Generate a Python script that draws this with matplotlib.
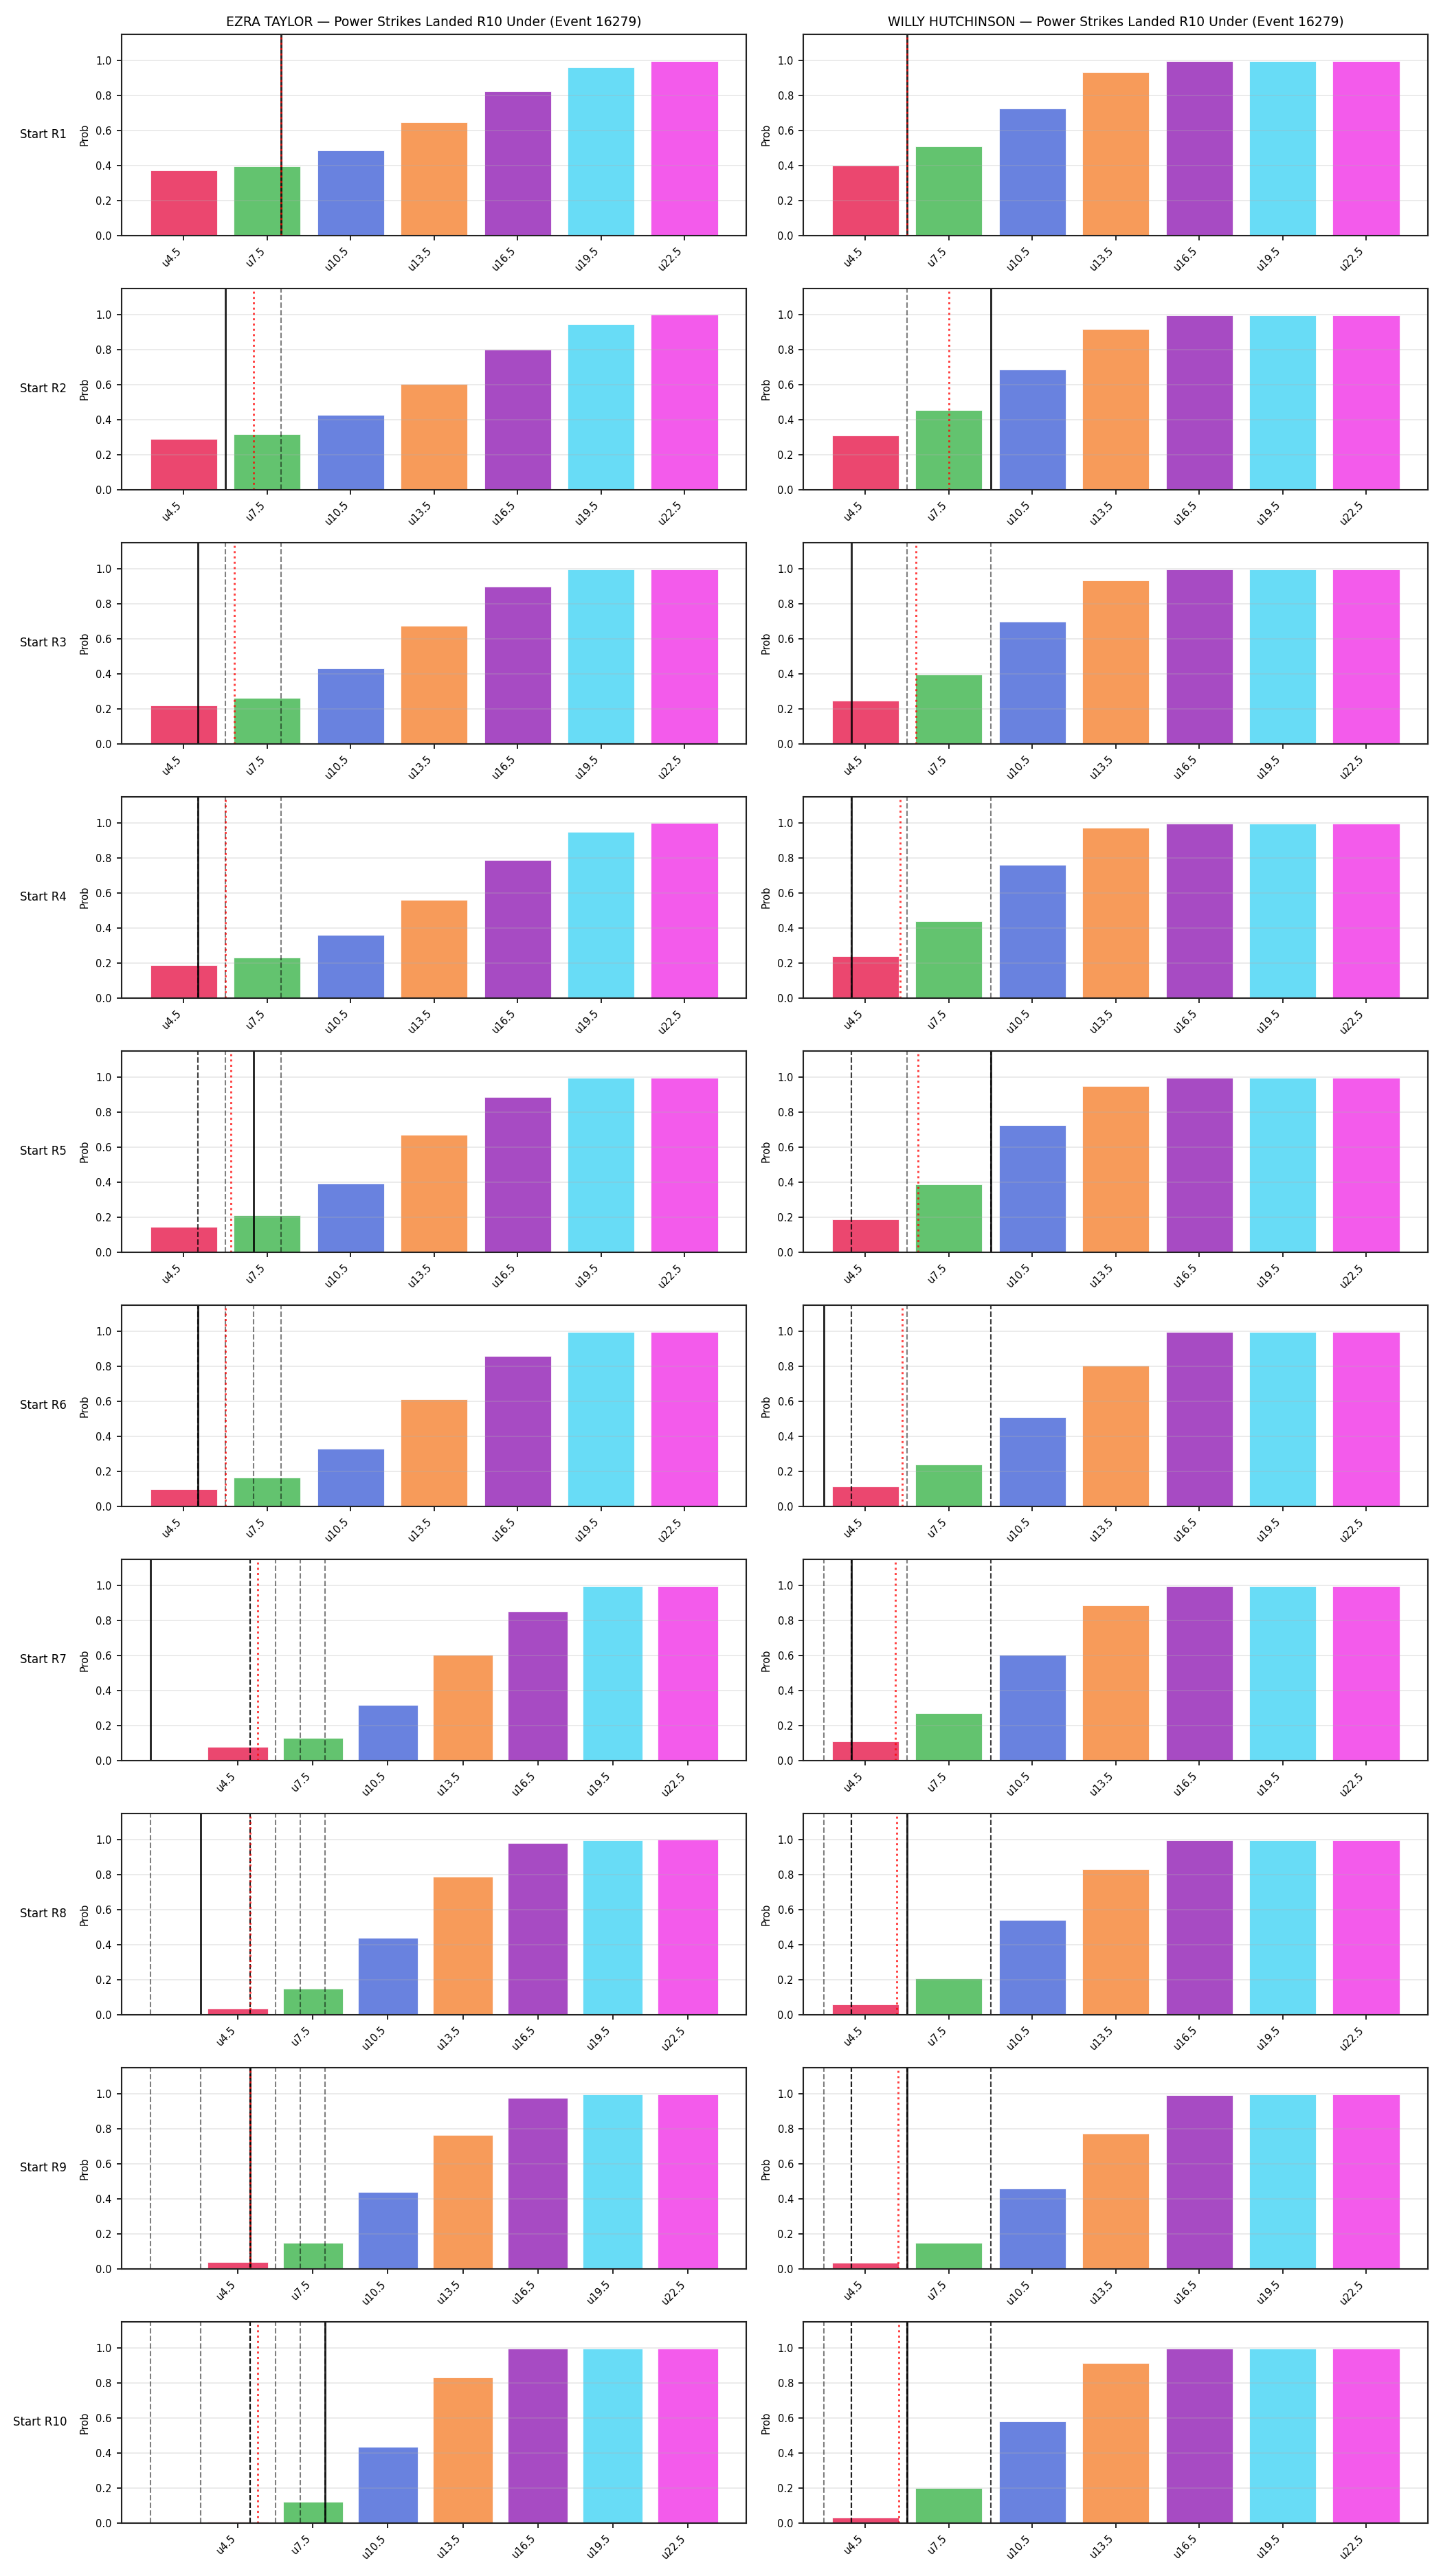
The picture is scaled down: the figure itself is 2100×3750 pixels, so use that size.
import matplotlib
matplotlib.use("Agg")
import matplotlib.pyplot as plt
import numpy as np

# under lines shown on the x axis
LINES = [4.5, 7.5, 10.5, 13.5, 16.5, 19.5, 22.5]
TICK_LABELS = [f"u{v}" for v in LINES]
ROWS = [f"Start R{i}" for i in range(1, 11)]

# strikes landed per round (solid line = this round, dashed = earlier rounds)
EZRA_ROUNDS = [8, 6, 5, 5, 7, 5, 1, 3, 5, 8]
WILLY_ROUNDS = [6, 9, 4, 4, 9, 3, 4, 6, 6, 6]

# running average shown as the red dotted line
EZRA_AVG = [8.0, 7.0, 6.33, 6.0, 6.2, 6.0, 5.29, 5.0, 5.0, 5.3]
WILLY_AVG = [6.0, 7.5, 6.33, 5.75, 6.4, 5.83, 5.57, 5.63, 5.67, 5.7]

# P(under) per line, one list per starting round
EZRA_PROBS = [
    [0.372, 0.396, 0.486, 0.647, 0.824, 0.962, 0.997],
    [0.290, 0.318, 0.425, 0.603, 0.799, 0.944, 1.0],
    [0.220, 0.262, 0.430, 0.673, 0.897, 0.998, 0.998],
    [0.187, 0.229, 0.360, 0.561, 0.790, 0.949, 1.0],
    [0.144, 0.210, 0.393, 0.671, 0.887, 0.998, 0.998],
    [0.098, 0.164, 0.327, 0.612, 0.860, 0.998, 0.998],
    [0.077, 0.128, 0.317, 0.604, 0.852, 0.997, 0.997],
    [0.033, 0.150, 0.439, 0.790, 0.981, 0.998, 1.0],
    [0.037, 0.150, 0.439, 0.766, 0.978, 0.995, 0.998],
    [0.007, 0.121, 0.436, 0.830, 0.998, 0.998, 0.998],
]
WILLY_PROBS = [
    [0.401, 0.511, 0.727, 0.934, 0.998, 0.998, 0.998],
    [0.308, 0.453, 0.687, 0.916, 0.998, 0.998, 0.998],
    [0.248, 0.397, 0.696, 0.935, 0.998, 0.998, 0.998],
    [0.238, 0.439, 0.762, 0.972, 0.998, 0.998, 0.998],
    [0.187, 0.388, 0.724, 0.949, 0.998, 0.998, 0.998],
    [0.112, 0.238, 0.509, 0.804, 0.998, 0.998, 0.998],
    [0.107, 0.271, 0.603, 0.888, 0.998, 0.998, 0.998],
    [0.056, 0.206, 0.542, 0.832, 0.998, 0.998, 0.998],
    [0.033, 0.150, 0.458, 0.771, 0.991, 0.997, 0.997],
    [0.030, 0.199, 0.581, 0.915, 0.998, 0.998, 0.998],
]

COLORS = ["#e6194b", "#3cb44b", "#4363d8", "#f58231", "#911eb4", "#42d4f4", "#f032e6"]

FIGHTERS = [
    ("EZRA TAYLOR", EZRA_ROUNDS, EZRA_AVG, EZRA_PROBS),
    ("WILLY HUTCHINSON", WILLY_ROUNDS, WILLY_AVG, WILLY_PROBS),
]


def to_pos(v):
    # map a strike count onto the categorical line axis
    return (v - LINES[0]) / (LINES[1] - LINES[0])


fig, axes = plt.subplots(10, 2, figsize=(14, 25), dpi=150)
fig.subplots_adjust(left=0.0845, right=0.9895, top=0.9867, bottom=0.0206,
                    wspace=0.092, hspace=0.264)

x = np.arange(len(LINES))
for col, (name, rounds, avg, probs) in enumerate(FIGHTERS):
    for r in range(10):
        ax = axes[r, col]
        ax.bar(x, probs[r], width=0.8, color=COLORS, alpha=0.8,
               edgecolor="white", linewidth=0.5)
        # earlier rounds
        for v in rounds[:r]:
            ax.axvline(to_pos(v), color="k", ls="--", lw=1.0, alpha=0.5)
        # this round
        ax.axvline(to_pos(rounds[r]), color="k", lw=1.4, alpha=0.85)
        # running average
        ax.axvline(to_pos(avg[r]), color="red", ls=":", lw=1.4, alpha=0.75)

        ax.set_ylim(0, 1.15)
        ax.set_yticks(np.arange(0, 1.01, 0.2))
        ax.set_xticks(x)
        ax.set_xticklabels(TICK_LABELS, rotation=45, ha="right")
        ax.tick_params(labelsize=7)
        ax.set_ylabel("Prob", fontsize=7)
        ax.grid(axis="y", alpha=0.3)
        for s in ax.spines.values():
            s.set_linewidth(1.0)
            s.set_color("#222222")
        if r == 0:
            ax.set_title(f"{name} \u2014 Power Strikes Landed R10 Under (Event 16279)",
                         fontsize=9)
        if col == 0:
            ax.annotate(ROWS[r], xy=(0, 0.5), xycoords=ax.yaxis.label,
                        xytext=(-9, 0), textcoords="offset points",
                        ha="right", va="center", fontsize=8)

fig.savefig("out.png", dpi=150)
